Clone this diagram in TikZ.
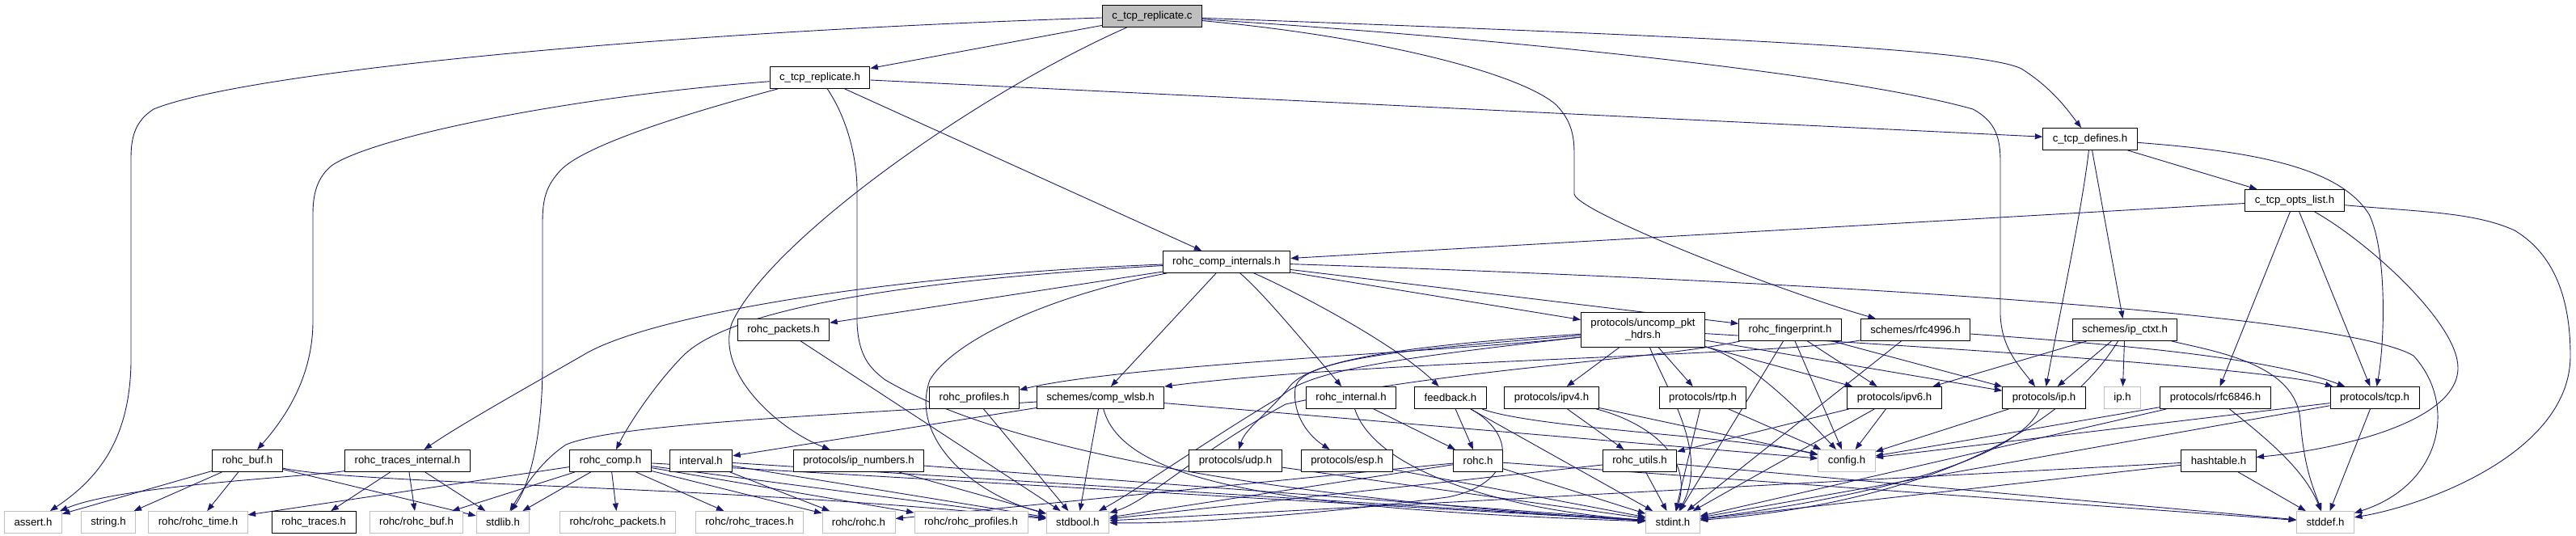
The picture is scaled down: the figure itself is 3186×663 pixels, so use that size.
\documentclass[tikz,border=0pt]{standalone}
\usepackage{fontspec}
\newfontfamily\dotfont{Liberation Sans}
\usetikzlibrary{arrows.meta}
\definecolor{edgeblue}{RGB}{25,25,112}
\definecolor{sysgray}{RGB}{191,191,191}
\pgfdeclarelayer{edges}
\pgfsetlayers{edges,main}

\begin{document}
\begin{tikzpicture}[x=1pt,y=-1pt,
  hdr/.style={draw=black, fill=white, line width=0.9pt, inner xsep=12pt, inner ysep=0pt,
    minimum height=27pt, font=\dotfont\fontsize{13.2}{15}\selectfont},
  sys/.style={hdr, draw=sysgray},
  inc/.style={draw=edgeblue, line width=0.9pt, -{Triangle[length=9.5pt,width=7pt]}}]

\useasboundingbox (0,0) rectangle (3186,663);

% top of the graph
\node[hdr, fill=sysgray] (ctrc) at (1425,20) {c\_tcp\_replicate.c};
\node[hdr] (ctrh) at (1014,96) {c\_tcp\_replicate.h};
\node[hdr] (defs) at (2585,172) {c\_tcp\_defines.h};
\node[hdr] (opts) at (2838,248) {c\_tcp\_opts\_list.h};
\node[hdr] (compint) at (1517,324) {rohc\_comp\_internals.h};

\node[hdr] (packets) at (969,408) {rohc\_packets.h};
\node[hdr, align=center, minimum height=43pt] (uncomp) at (2032,408) {protocols/uncomp\_pkt\\\_hdrs.h};
\node[hdr] (fprint) at (2214,408) {rohc\_fingerprint.h};
\node[hdr] (rfcfour) at (2369,408) {schemes/rfc4996.h};
\node[hdr] (ipctxt) at (2628,408) {schemes/ip\_ctxt.h};

\node[hdr] (profiles) at (1205,492) {rohc\_profiles.h};
\node[hdr] (wlsb) at (1361,492) {schemes/comp\_wlsb.h};
\node[hdr] (rint) at (1671,492) {rohc\_internal.h};
\node[hdr] (feedback) at (1794,492) {feedback.h};
\node[hdr] (ipfour) at (1919,492) {protocols/ipv4.h};
\node[hdr] (rtp) at (2106,492) {protocols/rtp.h};
\node[hdr] (ipsix) at (2343,492) {protocols/ipv6.h};
\node[hdr] (ipproto) at (2528,492) {protocols/ip.h};
\node[sys] (iph) at (2625,492) {ip.h};
\node[hdr] (rfcsix) at (2740,492) {protocols/rfc6846.h};
\node[hdr] (tcp) at (2937,492) {protocols/tcp.h};

\node[hdr] (rbuf) at (306,570) {rohc\_buf.h};
\node[hdr] (trint) at (504,570) {rohc\_traces\_internal.h};
\node[hdr] (comp) at (755,570) {rohc\_comp.h};
\node[hdr] (interval) at (867,570) {interval.h};
\node[hdr] (ipnum) at (1062,570) {protocols/ip\_numbers.h};
\node[hdr] (udp) at (1528,570) {protocols/udp.h};
\node[hdr] (esp) at (1666,570) {protocols/esp.h};
\node[hdr] (rohch) at (1828,570) {rohc.h};
\node[hdr] (utils) at (2028,570) {rohc\_utils.h};
\node[sys] (config) at (2284,570) {config.h};
\node[hdr] (hashtable) at (2744,570) {hashtable.h};

% system and public headers
\node[sys] (assert) at (41,646) {assert.h};
\node[sys] (string) at (134,646) {string.h};
\node[sys] (rtime) at (245,646) {rohc/rohc\_time.h};
\node[hdr] (traces) at (388,646) {rohc\_traces.h};
\node[sys] (rrbuf) at (515,646) {rohc/rohc\_buf.h};
\node[sys] (stdlib) at (622,646) {stdlib.h};
\node[sys] (rpackets) at (764,646) {rohc/rohc\_packets.h};
\node[sys] (rtraces) at (927,646) {rohc/rohc\_traces.h};
\node[sys] (rrohc) at (1062,646) {rohc/rohc.h};
\node[sys] (rprofiles) at (1201,646) {rohc/rohc\_profiles.h};
\node[sys] (stdbool) at (1333,646) {stdbool.h};
\node[sys] (stdint) at (2069,646) {stdint.h};
\node[sys] (stddef) at (2876,646) {stddef.h};

\begin{pgfonlayer}{edges}
\foreach \src/\dst in {ctrc/ctrh, ctrh/compint, ctrh/defs, defs/opts, defs/ipctxt,
  opts/compint, opts/rfcsix, opts/tcp, compint/packets, compint/wlsb, compint/uncomp,
  compint/fprint, packets/stdbool, uncomp/ipfour, uncomp/rtp, uncomp/ipsix, uncomp/ipproto,
  fprint/config, fprint/ipsix, fprint/ipproto, fprint/stdint, rfcfour/stdint,
  ipctxt/ipproto, ipctxt/iph, ipctxt/ipsix, profiles/stdbool, wlsb/interval, wlsb/stdbool,
  wlsb/config, rint/rohch, feedback/rohch, feedback/stdint, ipfour/utils, ipfour/config,
  rtp/config, rtp/stdint, ipsix/utils, ipsix/config, ipsix/stdint, ipproto/config,
  rfcsix/stdint, rfcsix/config, tcp/stdint, tcp/config, tcp/stddef,
  rbuf/assert, rbuf/string, rbuf/rtime, rbuf/stdlib, trint/traces, trint/rrbuf, trint/stdlib,
  comp/rtime, comp/rrbuf, comp/stdlib, comp/rpackets, comp/rtraces, comp/rrohc,
  comp/rprofiles, comp/stdbool, comp/stdint, interval/rrohc, interval/stdint,
  interval/stdbool, ipnum/stdint, ipnum/stdbool, udp/stdint, esp/stdint, rohch/rrohc,
  rohch/stdint, rohch/stdbool, rohch/stddef, utils/stdint, utils/stdbool, utils/stddef,
  hashtable/stddef, hashtable/stdint, hashtable/stdbool}
  \draw[inc] (\src) -- (\dst);

% long routes
\draw[inc] (ctrc) .. controls (800,40) and (300,90) .. (190,135)
  .. controls (170,148) and (162,165) .. (162,195) -- (162,450)
  .. controls (160,540) and (125,590) .. (assert);
\draw[inc] (ctrc) .. controls (1200,120) and (950,300) .. (905,400)
  .. controls (885,460) and (960,530) .. (ipnum);
\draw[inc] (ctrc) .. controls (2100,45) and (2450,60) .. (2500,85)
  .. controls (2540,110) and (2560,140) .. (defs);
\draw[inc] (ctrc) .. controls (1900,50) and (2300,95) .. (2440,135)
  .. controls (2468,150) and (2474,170) .. (2474,200) -- (2474,390)
  .. controls (2476,430) and (2495,450) .. (ipproto);
\draw[inc] (ctrc) .. controls (1700,45) and (1880,90) .. (1925,130)
  .. controls (1942,148) and (1947,165) .. (1947,190) -- (1947,240)
  .. controls (1950,262) and (2200,360) .. (rfcfour);
\draw[inc] (ctrh) .. controls (700,120) and (460,170) .. (410,205)
  .. controls (392,220) and (387,240) .. (387,265) -- (387,400)
  .. controls (386,470) and (350,520) .. (rbuf);
\draw[inc] (ctrh) .. controls (850,140) and (720,180) .. (692,212)
  .. controls (676,230) and (671,245) .. (671,275) -- (671,450)
  .. controls (671,540) and (655,600) .. (stdlib);
\draw[inc] (ctrh) .. controls (1050,150) and (1060,200) .. (1060,235) -- (1060,400)
  .. controls (1062,440) and (1075,455) .. (1095,470)
  .. controls (1300,590) and (1800,630) .. (stdint);

\draw[inc] (defs) .. controls (2575,260) and (2545,400) .. (ipproto);
\draw[inc] (defs) .. controls (2800,188) and (2895,210) .. (2930,265)
  .. controls (2952,310) and (2950,420) .. (tcp);
\draw[inc] (opts) .. controls (2990,262) and (3060,262) .. (3110,285)
  .. controls (3165,318) and (3179,380) .. (3179,440)
  .. controls (3179,560) and (3000,625) .. (stddef);
\draw[inc] (opts) .. controls (2930,300) and (3040,400) .. (3040,455)
  .. controls (3040,520) and (2900,555) .. (hashtable);

\draw[inc] (compint) .. controls (1100,340) and (800,390) .. (720,440)
  .. controls (650,480) and (570,525) .. (trint);
\draw[inc] (compint) .. controls (1100,348) and (900,385) .. (845,440)
  .. controls (815,470) and (780,520) .. (comp);
\draw[inc] (compint) .. controls (1300,365) and (1180,420) .. (1150,470)
  .. controls (1125,540) and (1200,610) .. (stdbool);
\draw[inc] (compint) .. controls (1560,360) and (1610,420) .. (rint);
\draw[inc] (compint) .. controls (1580,350) and (1720,420) .. (feedback);
\draw[inc] (compint) .. controls (2300,350) and (2900,390) .. (2985,440)
  .. controls (3040,500) and (3020,600) .. (stddef);

\draw[inc] (uncomp) .. controls (1800,435) and (1400,450) .. (profiles.10);
\draw[inc] (uncomp) .. controls (1760,440) and (1620,455) .. (1585,490)
  .. controls (1500,540) and (1400,610) .. (stdbool);
\draw[inc] (uncomp) .. controls (1780,425) and (1625,440) .. (1595,478)
  .. controls (1570,510) and (1540,530) .. (udp);
\draw[inc] (uncomp) .. controls (1780,430) and (1608,440) .. (1602,480)
  .. controls (1598,515) and (1620,540) .. (esp);
\draw[inc] (uncomp) .. controls (2060,480) and (2115,560) .. (stdint);
\draw[inc] (uncomp) .. controls (2400,430) and (2800,455) .. (tcp);
\draw[inc] (uncomp) .. controls (2150,440) and (2200,480) .. (config);

\draw[inc] (fprint) .. controls (2050,445) and (1800,455) .. (1590,500)
  .. controls (1480,560) and (1420,620) .. (stdbool);
\draw[inc] (rfcfour) .. controls (2200,440) and (1700,445) .. (wlsb.10);
\draw[inc] (rfcfour) .. controls (2600,425) and (2800,440) .. (tcp);
\draw[inc] (ipctxt) .. controls (2740,435) and (2840,450) .. (2845,520)
  .. controls (2850,580) and (2860,600) .. (stddef);
\draw[inc] (ipctxt) .. controls (2560,520) and (2400,620) .. (stdint);

\draw[inc] (wlsb) .. controls (1000,515) and (760,525) .. (700,550)
  .. controls (670,570) and (650,600) .. (stdlib);
\draw[inc] (wlsb) .. controls (1390,600) and (1600,630) .. (stdint);
\draw[inc] (rint) .. controls (1700,580) and (1850,630) .. (stdint);
\draw[inc] (feedback) .. controls (1900,530) and (2150,540) .. (config);
\draw[inc] (feedback) .. controls (1880,540) and (1870,600) .. (1790,615)
  .. controls (1600,640) and (1450,648) .. (stdbool);
\draw[inc] (ipfour) .. controls (2030,520) and (2095,560) .. (stdint);
\draw[inc] (ipproto) .. controls (2500,560) and (2350,610) .. (stdint);
\draw[inc] (rfcsix) .. controls (2800,540) and (2850,580) .. (stddef);

\draw[inc] (rbuf) .. controls (450,600) and (900,600) .. (stdbool);
\draw[inc] (trint) .. controls (380,590) and (150,600) .. (assert);
\end{pgfonlayer}

\end{tikzpicture}
\end{document}
